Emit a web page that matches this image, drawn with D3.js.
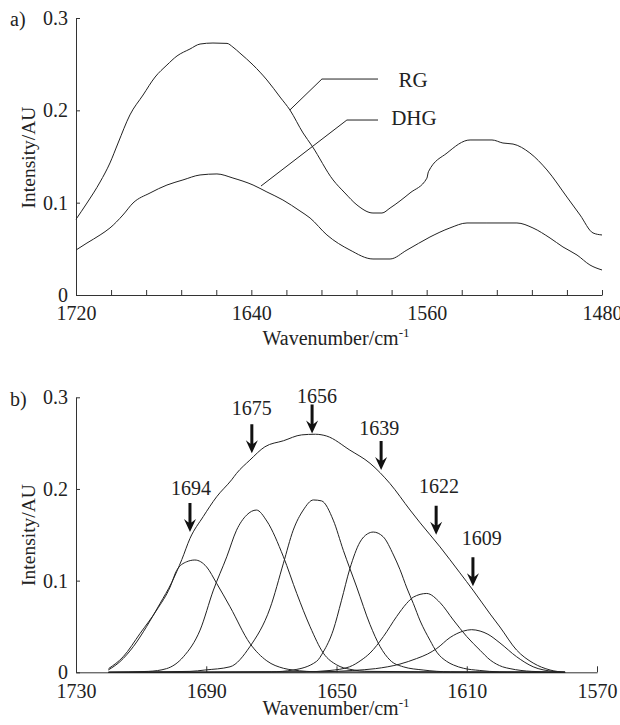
<!DOCTYPE html>
<html>
<head>
<meta charset="utf-8">
<script src="https://cdn.jsdelivr.net/npm/d3@7"></script>
<style>
  body { margin: 0; background: #fff; font-family: 'Liberation Serif'; }
</style>
</head>
<body>
<div id="chart"></div>
<script>
// ---- panel a) raw spectra ----
var rgWn  = [1720,1715,1709,1704.5,1700.8,1695.4,1689.4,1683.9,1678.5,1673.9,1668,1663.4,1657.5,1651.1,1648.4,1645.2,1639.2,1632.9,1626.9,1622.4,1616.4,1612.3,1602.7,1597.3,1591.8,1584.5,1580.4,1576.7,1567.6,1559.9,1559.2,1550.7,1540.2,1530.2,1525.2,1520.6,1512.9,1505.1,1496,1490,1484.1,1480];
var rgInt = [0.082,0.0996,0.1224,0.143,0.1646,0.195,0.2166,0.2361,0.2491,0.2589,0.2664,0.2718,0.2729,0.2725,0.2685,0.262,0.2491,0.2329,0.2144,0.2004,0.1755,0.1614,0.1246,0.1105,0.0975,0.0888,0.0888,0.0942,0.1105,0.1265,0.1335,0.1538,0.1679,0.1679,0.1646,0.1635,0.1538,0.1354,0.1061,0.0866,0.0672,0.065];

var dhgWn  = [1720,1715,1709,1704.5,1698.6,1694,1686.2,1678.5,1671.2,1663.4,1655.7,1648.4,1639.2,1632.9,1625.6,1617.8,1613.2,1605.5,1595,1584.5,1576.7,1569,1558.5,1549.4,1541.6,1532.5,1518.8,1511.5,1503.7,1497.8,1491.4,1485.5,1480];
var dhgInt = [0.0487,0.0563,0.065,0.0726,0.0866,0.0996,0.1105,0.1191,0.1246,0.13,0.1311,0.1267,0.1191,0.1116,0.1029,0.091,0.0834,0.065,0.0487,0.039,0.039,0.0487,0.0628,0.0726,0.078,0.078,0.078,0.0726,0.0617,0.052,0.0433,0.0325,0.0271];

var topTicks  = d3.range(1720, 1479, -16);
var topLabels = [1720, 1640, 1560, 1480];
var yTicks    = [0, 0.1, 0.2, 0.3];

// ---- panel b) curve fitting, [wavenumber, intensity] ----
var band1694 = [[1720,0.004],[1715.5,0.017],[1710.3,0.0425],[1705.2,0.068],[1701.1,0.093],[1699.1,0.111],[1696,0.1206],[1693.5,0.1225],[1689.9,0.115],[1686.8,0.097],[1682.7,0.0715],[1676.6,0.0316],[1671.4,0.0125],[1666.3,0.0044],[1663.4,0.0025],[1655,0.0005],[1579.8,0]];
var band1675 = [[1720,0],[1707.8,0.001],[1702.2,0.004],[1697,0.017],[1691.9,0.046],[1687.8,0.0897],[1683.7,0.126],[1680.7,0.155],[1677.6,0.1715],[1674.6,0.177],[1671.4,0.165],[1666.3,0.126],[1662.2,0.086],[1658.1,0.0497],[1654,0.0207],[1649.9,0.008],[1645.9,0.0033],[1640,0.001],[1579.8,0]];
var band1656 = [[1720,0],[1695,0.001],[1690.4,0.0025],[1682.7,0.006],[1676.6,0.028],[1670.4,0.07],[1666.3,0.119],[1663.3,0.155],[1660.2,0.177],[1657.1,0.188],[1654.6,0.187],[1651,0.166],[1647.9,0.133],[1643.8,0.093],[1639.7,0.052],[1636.6,0.028],[1633.6,0.0134],[1629.5,0.006],[1623.4,0.0025],[1615,0.0005],[1579.8,0]];
var band1639 = [[1720,0],[1670,0.0005],[1663.3,0.0025],[1656.1,0.012],[1654.1,0.022],[1651,0.046],[1648.5,0.078],[1645.9,0.113],[1642.8,0.142],[1640.5,0.151],[1638.7,0.153],[1635.7,0.148],[1632.5,0.128],[1630.5,0.112],[1628.4,0.092],[1626.4,0.075],[1624.3,0.056],[1621.3,0.035],[1619.2,0.022],[1616.2,0.012],[1614.1,0.008],[1611,0.0044],[1606,0.002],[1600,0.0005],[1579.8,0]];
var band1622 = [[1720,0],[1660,0.0005],[1652,0.002],[1646,0.006],[1642.5,0.013],[1639.7,0.021],[1635.6,0.039],[1631.5,0.061],[1628.5,0.075],[1626.4,0.082],[1622.3,0.086],[1618.2,0.076],[1614.1,0.057],[1610,0.039],[1605.9,0.024],[1602.8,0.0134],[1599,0.006],[1596.7,0.004],[1590,0.001],[1579.8,0]];
var band1609 = [[1720,0],[1655,0.0005],[1645,0.002],[1638,0.004],[1630.5,0.009],[1625.4,0.015],[1622,0.02],[1619.2,0.026],[1615.1,0.038],[1611,0.045],[1608.5,0.0465],[1605.9,0.045],[1603.5,0.0415],[1599.8,0.032],[1594.7,0.017],[1589.6,0.006],[1583.5,0.001],[1579.8,0]];
var envelope = [[1720.1,0.0025],[1716.5,0.0116],[1712.4,0.028],[1708.3,0.05],[1704.2,0.075],[1700.6,0.098],[1697.5,0.123],[1695,0.146],[1690.9,0.17],[1686.8,0.1915],[1682.2,0.21],[1680.7,0.217],[1676.6,0.2315],[1672,0.246],[1666.3,0.2526],[1660.7,0.259],[1656.5,0.2597],[1653,0.2577],[1645.9,0.2424],[1639.7,0.228],[1633.6,0.206],[1627.4,0.177],[1624.3,0.163],[1618.2,0.1368],[1612.1,0.1085],[1608.1,0.0897],[1602.8,0.0635],[1599.8,0.0494],[1594.7,0.0243],[1589.6,0.0101],[1584.4,0.0025],[1579.8,0]];

var peakLabels = ["1694", "1675", "1656", "1639", "1622", "1609"];
var arrowWn    = [1695.0, 1676.0, 1657.5, 1636.3, 1619.4, 1608.1];
var arrowTip   = [0.153, 0.239, 0.2606, 0.2206, 0.150, 0.094];
var labelWn    = [1694.7, 1676.0, 1656.0, 1636.9, 1618.5, 1605.4];
var labelInt   = [0.1934, 0.2806, 0.2933, 0.2588, 0.1955, 0.1388];

var bottomTicks = [1730, 1690, 1650, 1610, 1570];

function init() {
	var serif = "'Liberation Serif'";
	var ink = "#222";

	var svg = d3.select("#chart").append("svg")
				.attr("width", 620)
				.attr("height", 725);

	//scales
	var xA = d3.scaleLinear().domain([1720, 1480]).range([76, 602]);
	var yA = d3.scaleLinear().domain([0, 0.3]).range([295, 18]);
	var xB = d3.scaleLinear().domain([1730, 1570]).range([76, 597]);
	var yB = d3.scaleLinear().domain([0, 0.3]).range([672.3, 397.3]);

	function yFmt(d) { return d === 0 ? "0" : d3.format(".1f")(d); }

	function styleAxis(g) {
		g.attr("font-size", 20)
		 .attr("font-family", null)
		 .attr("color", "#333");
	}

	// ---------- panel a ----------
	svg.append("g")
		.attr("transform", "translate(0," + yA(0) + ")")
		.call(d3.axisBottom(xA)
			.tickValues(topTicks)
			.tickFormat(function(d) { return topLabels.indexOf(d) >= 0 ? String(d) : ""; })
			.tickSizeInner(-5).tickSizeOuter(0).tickPadding(11))
		.call(styleAxis);

	svg.append("g")
		.attr("transform", "translate(" + xA(1720) + ",0)")
		.call(d3.axisLeft(yA).tickValues(yTicks).tickFormat(yFmt)
			.tickSizeInner(-4).tickSizeOuter(0).tickPadding(8))
		.call(styleAxis);

	var lineA = d3.line()
				.x(function(d) { return xA(d[0]); })
				.y(function(d) { return yA(d[1]); })
				.curve(d3.curveMonotoneX);

	[[rgWn, rgInt], [dhgWn, dhgInt]].forEach(function(s) {
		svg.append("path")
			.datum(d3.zip(s[0], s[1]))
			.attr("fill", "none")
			.attr("stroke", ink)
			.attr("stroke-width", 1)
			.attr("d", lineA);
	});

	//leader lines for the two spectra
	var leaders = [
		{ name: "RG",  tip: [1622.4, 0.2004], elbow: [1607.8, 0.2339], end: 1582.2, text: [1566.2, 0.2253] },
		{ name: "DHG", tip: [1635.6, 0.1180], elbow: [1596.4, 0.1895], end: 1582.2, text: [1565.8, 0.1841] }
	];
	leaders.forEach(function(l) {
		svg.append("polyline")
			.attr("points", [
				[xA(l.tip[0]), yA(l.tip[1])],
				[xA(l.elbow[0]), yA(l.elbow[1])],
				[xA(l.end), yA(l.elbow[1])]
			].join(" "))
			.attr("fill", "none")
			.attr("stroke", ink)
			.attr("stroke-width", 1);
		svg.append("text")
			.attr("x", xA(l.text[0]))
			.attr("y", yA(l.text[1]))
			.attr("text-anchor", "middle")
			.attr("font-size", 21)
			.text(l.name);
	});

	svg.append("text").attr("x", 10).attr("y", 26).attr("font-size", 20).text("a)");

	svg.append("text")
		.attr("transform", "translate(35,157.5) rotate(-90)")
		.attr("text-anchor", "middle")
		.attr("font-size", 19.5)
		.text("Intensity/AU");

	var tA = svg.append("text")
		.attr("x", 336).attr("y", 345)
		.attr("text-anchor", "middle")
		.attr("font-size", 20)
		.text("Wavenumber/cm");
	tA.append("tspan").attr("dy", -8).attr("font-size", 13).text("-1");

	// ---------- panel b ----------
	var lineB = d3.line()
				.x(function(d) { return xB(d[0]); })
				.y(function(d) { return yB(d[1]); })
				.curve(d3.curveMonotoneX);

	svg.append("g")
		.attr("transform", "translate(0," + yB(0) + ")")
		.call(d3.axisBottom(xB).tickValues(bottomTicks)
			.tickFormat(function(d) { return String(d); })
			.tickSizeInner(-6).tickSizeOuter(0).tickPadding(12))
		.call(styleAxis);

	svg.append("g")
		.attr("transform", "translate(" + xB(1730) + ",0)")
		.call(d3.axisLeft(yB).tickValues(yTicks).tickFormat(yFmt)
			.tickSizeInner(-4).tickSizeOuter(0).tickPadding(8))
		.call(styleAxis);

	var bands = [band1694, band1675, band1656, band1639, band1622, band1609];
	svg.append("g").selectAll("path")
		.data(bands)
		.enter()
		.append("path")
		.attr("fill", "none")
		.attr("stroke", ink)
		.attr("stroke-width", 1)
		.attr("d", lineB);

	svg.append("path")
		.datum(envelope)
		.attr("fill", "none")
		.attr("stroke", ink)
		.attr("stroke-width", 1)
		.attr("d", lineB);

	//arrows pointing at the band positions
	var arrowLen = 29;
	var arrowShape = "M0,0 L-6,-13 L-1.5,-9.5 L-1.5,-" + arrowLen + " L1.5,-" + arrowLen + " L1.5,-9.5 L6,-13 Z";
	var arrows = svg.append("g").selectAll("g")
		.data(peakLabels)
		.enter()
		.append("g");

	arrows.append("path")
		.attr("transform", function(d, i) {
			return "translate(" + xB(arrowWn[i]) + "," + yB(arrowTip[i]) + ")";
		})
		.attr("d", arrowShape)
		.attr("fill", "#111");

	arrows.append("text")
		.attr("x", function(d, i) { return xB(labelWn[i]); })
		.attr("y", function(d, i) { return yB(labelInt[i]); })
		.attr("text-anchor", "middle")
		.attr("font-size", 20)
		.text(function(d) { return d; });

	svg.append("text").attr("x", 10).attr("y", 406).attr("font-size", 20).text("b)");

	svg.append("text")
		.attr("transform", "translate(35,535) rotate(-90)")
		.attr("text-anchor", "middle")
		.attr("font-size", 19.5)
		.text("Intensity/AU");

	var tB = svg.append("text")
		.attr("x", 336).attr("y", 715)
		.attr("text-anchor", "middle")
		.attr("font-size", 20)
		.text("Wavenumber/cm");
	tB.append("tspan").attr("dy", -8).attr("font-size", 13).text("-1");

	//every text in the serif face
	svg.selectAll("text")
		.style("font-family", serif)
		.style("fill", ink);
}

init();
</script>
</body>
</html>
